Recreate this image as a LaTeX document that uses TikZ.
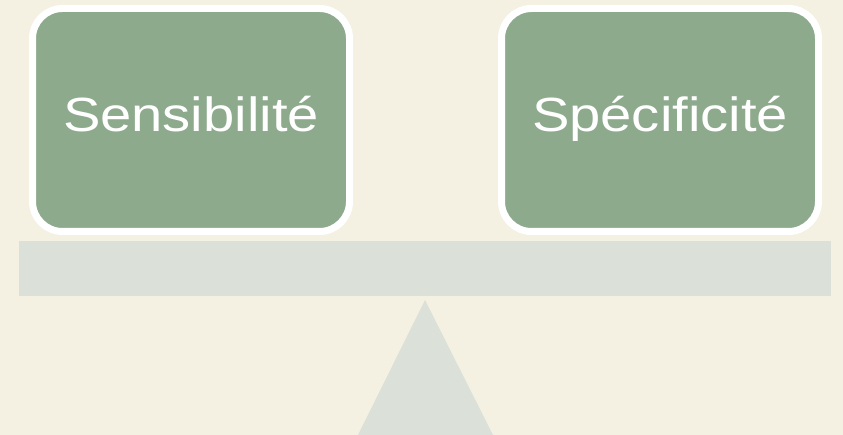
\documentclass[tikz,border=0pt]{standalone}
\usepackage{fontspec}
\newfontfamily\labfont[FakeStretch=1.17]{Liberation Sans}
\definecolor{bgc}{HTML}{F4F1E2}
\definecolor{boxg}{HTML}{8DAA8D}
\definecolor{beamc}{HTML}{DBE1D9}
\tikzset{
  pan/.style={draw=white, line width=7pt, fill=boxg, rounded corners=30pt, minimum width=317pt, minimum height=223pt, inner sep=0pt, text height=34pt, text depth=10pt, text=white, font=\labfont\fontsize{48}{50}\selectfont},
}
\begin{document}
\begin{tikzpicture}[x=1pt,y=-1pt]
\fill[bgc] (0,0) rectangle (843,435);
\useasboundingbox (0,0) rectangle (843,435);
\fill[beamc] (19,241) rectangle (831,296);
\coordinate (apex) at (425,300);
\coordinate (bl) at (358,435);
\coordinate (br) at (493,435);
\fill[beamc] (apex) -- (br) -- (bl) -- cycle;
\node[pan] (sens) at (191,120) {Sensibilité};
\node[pan] (spec) at (660,120) {Spécificité};
\end{tikzpicture}
\end{document}
